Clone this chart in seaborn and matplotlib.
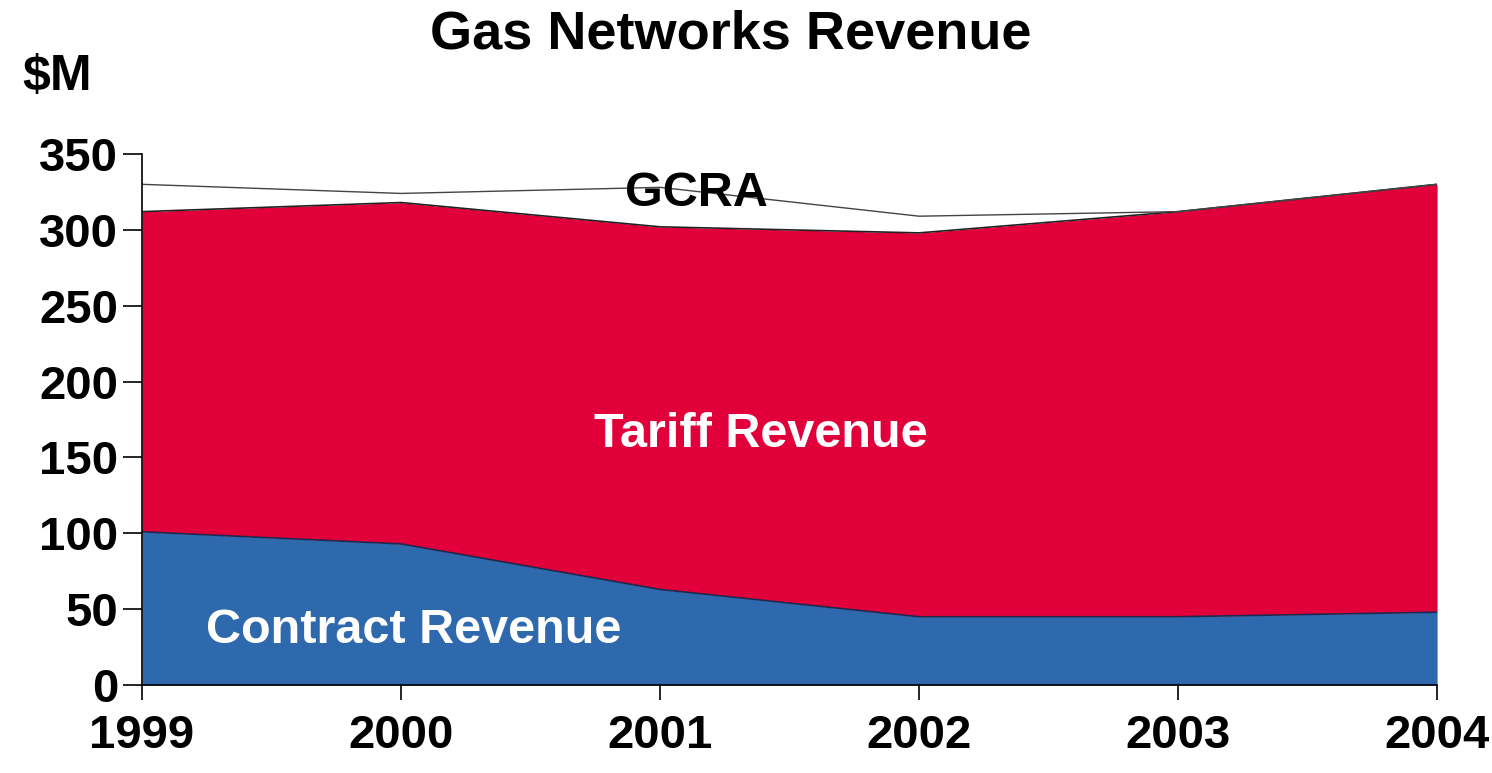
import numpy as np
import pandas as pd
import matplotlib
matplotlib.use("Agg")
import matplotlib.pyplot as plt
import seaborn as sns

years = [1999, 2000, 2001, 2002, 2003, 2004]
contract = [101, 93, 63, 45, 45, 48]
tariff = [211, 225, 239, 253, 267, 282]
gcra = [18, 6, 26, 11, 0, 0]
yticks = [0, 50, 100, 150, 200, 250, 300, 350]

df = pd.DataFrame({'Year': years, 'Contract': contract, 'Tariff': tariff, 'GCRA': gcra})
df['top_contract'] = df['Contract']
df['top_tariff'] = df['Contract'] + df['Tariff']
df['top_gcra'] = df['top_tariff'] + df['GCRA']

sns.set_theme(style='white')
plt.rcParams['font.family'] = ['Liberation Sans', 'DejaVu Sans']
plt.rcParams['font.weight'] = 'bold'
plt.rcParams['text.color'] = 'black'
plt.rcParams['xtick.color'] = 'black'
plt.rcParams['ytick.color'] = 'black'

fig = plt.figure(figsize=(14.92, 7.73), dpi=100)
ax = fig.add_axes([0.0952, 0.1138, 0.9632 - 0.0952, 0.8008 - 0.1138])

red = '#E2003A'
blue = '#2D69AC'

ax.fill_between(df['Year'], 0, df['top_contract'], color=blue, lw=0)
ax.fill_between(df['Year'], df['top_contract'], df['top_tariff'], color=red, lw=0)
ax.fill_between(df['Year'], df['top_tariff'], df['top_gcra'], color='white', lw=0)
sns.lineplot(x='Year', y='top_contract', data=df, ax=ax, color='#1a2a50', lw=1.2)
sns.lineplot(x='Year', y='top_tariff', data=df, ax=ax, color='#222222', lw=1.2)
sns.lineplot(x='Year', y='top_gcra', data=df, ax=ax, color='#444444', lw=1.0)

ax.set_xlim(1999, 2004)
ax.set_ylim(0, 350)
ax.set_xticks(years)
ax.set_yticks(yticks)
ax.set_xlabel('')
ax.set_ylabel('')
sns.despine(ax=ax, top=True, right=True)
for s in ['left', 'bottom']:
    ax.spines[s].set_color('black')
    ax.spines[s].set_linewidth(1.2)

ax.tick_params(axis='y', direction='out', length=14, width=1.2, colors='black',
               labelsize=34, pad=3, left=True)
ax.tick_params(axis='x', direction='out', length=11, width=1.2, colors='black',
               labelsize=34, pad=10, bottom=True)
for lab in ax.get_xticklabels() + ax.get_yticklabels():
    lab.set_fontweight('bold')

ax.text(2001.39, 165, 'Tariff Revenue', color='white', fontsize=35,
        fontweight='bold', ha='center', va='center')
ax.text(2000.05, 36, 'Contract Revenue', color='white', fontsize=35,
        fontweight='bold', ha='center', va='center')
ax.text(2001.14, 324, 'GCRA', color='black', fontsize=35,
        fontweight='bold', ha='center', va='center')

fig.text(0.49, 0.955, 'Gas Networks Revenue', fontsize=39, fontweight='bold',
         ha='center', va='center')
fig.text(0.038, 0.9, '$M', fontsize=36, fontweight='bold', ha='center', va='center')

fig.savefig('out.png', dpi=100)
